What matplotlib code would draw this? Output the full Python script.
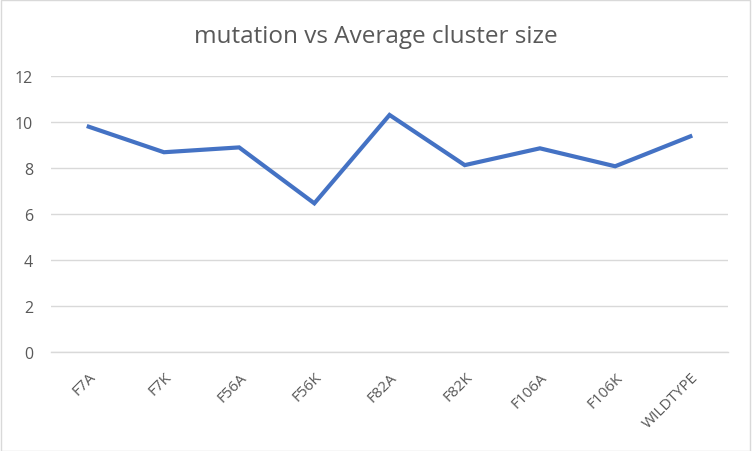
import matplotlib as mpl

mpl.use("Agg")
import matplotlib.pyplot as plt
from matplotlib.patches import Rectangle

mutations = ["F7A", "F7K", "F56A", "F56K", "F82A", "F82K", "F106A", "F106K", "WILDTYPE"]
avg_cluster_size = [9.81, 8.70, 8.91, 6.48, 10.32, 8.14, 8.87, 8.09, 9.39]
y_ticks = [0, 2, 4, 6, 8, 10, 12]

LINE = "#4472C4"
TEXT = "#595959"
GRID = "#D9D9D9"

plt.rcParams["font.family"] = ["Open Sans", "DejaVu Sans"]

fig = plt.figure(figsize=(7.52, 4.52), dpi=100)
ax = fig.add_axes([0.068, 0.218, 0.900, 0.611])

x = range(len(mutations))
ax.plot(x, avg_cluster_size, color=LINE, linewidth=3.0, solid_joinstyle="miter", zorder=3)

ax.set_xlim(-0.5, len(mutations) - 0.5)
ax.set_ylim(0, 12)
ax.set_yticks(y_ticks)
ax.set_yticklabels([str(t) for t in y_ticks], color=TEXT, fontsize=11.5)
ax.set_xticks(list(x))
ax.set_xticklabels(mutations, rotation=45, ha="right", va="top", rotation_mode="anchor",
                   color=TEXT, fontsize=11)
ax.tick_params(axis="both", length=0)
ax.tick_params(axis="y", pad=13)
ax.tick_params(axis="x", pad=12)
ax.grid(axis="y", color=GRID, linewidth=1.0)
ax.set_axisbelow(True)
for side in ("top", "right", "left"):
    ax.spines[side].set_visible(False)
ax.spines["bottom"].set_color(GRID)
ax.spines["bottom"].set_linewidth(1.0)

fig.text(0.5, 0.919, "mutation vs Average cluster size", ha="center", va="center",
         fontsize=17.5, color=TEXT)

fig.patches.append(Rectangle((0.001, 0.001), 0.997, 0.996, transform=fig.transFigure,
                             fill=False, edgecolor="#D9D9D9", linewidth=1.0))

fig.savefig("out.png", dpi=100, facecolor="white")
